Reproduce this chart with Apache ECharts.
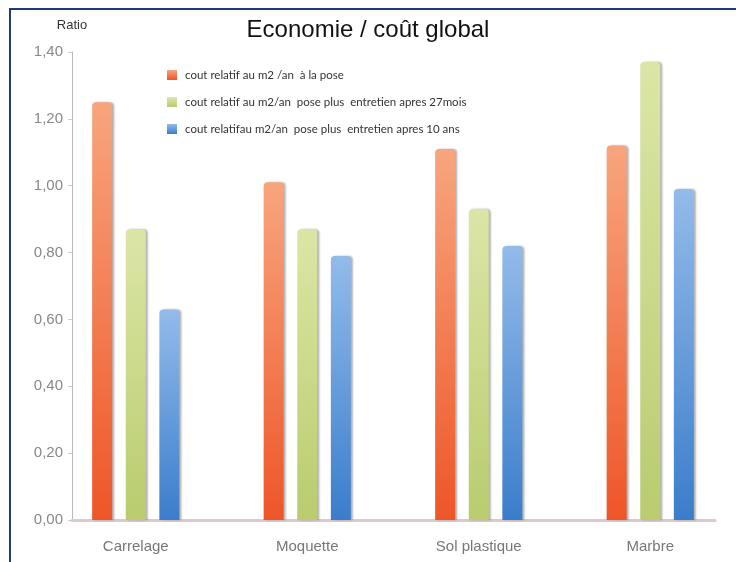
<!DOCTYPE html>
<html>
<head>
<meta charset="utf-8">
<title>Economie / coût global</title>
<script src="https://cdn.jsdelivr.net/npm/echarts@6/dist/echarts.min.js"></script>
<style>
  html, body { margin: 0; padding: 0; background: #fff; }
  #chart { position: absolute; left: 0; top: 0; width: 736px; height: 562px; }
  #frame {
    position: absolute; left: 9px; top: 8px; right: 0; bottom: 0;
    border-left: 2px solid #1f3b7c; border-top: 2px solid #1f3b7c;
    pointer-events: none;
  }
</style>
</head>
<body>
<div id="chart"></div>
<div id="frame"></div>
<script>
const categories = ['Carrelage', 'Moquette', 'Sol plastique', 'Marbre'];
const seriesNames = [
  'cout relatif au m2 /an  à la pose',
  'cout relatif au m2/an  pose plus  entretien apres 27mois',
  'cout relatifau m2/an  pose plus  entretien apres 10 ans'
];
const poseValues = [1.25, 1.01, 1.11, 1.12];
const entretien27Values = [0.87, 0.87, 0.93, 1.37];
const entretien10Values = [0.63, 0.79, 0.82, 0.99];
const yTicks = [0, 0.2, 0.4, 0.6, 0.8, 1.0, 1.2, 1.4];

// top / bottom colours of each cylinder
const barColors = [
  ['#f8a57e', '#ee5628'],
  ['#dbe6a6', '#b9cc6e'],
  ['#93bbea', '#3b7dcb']
];

function barStyle(c) {
  return {
    color: new echarts.graphic.LinearGradient(0, 0, 0, 1, [
      { offset: 0, color: c[0] },
      { offset: 1, color: c[1] }
    ]),
    borderRadius: [4, 4, 0, 0],
    shadowColor: 'rgba(60,60,60,0.4)',
    shadowOffsetX: 2,
    shadowBlur: 2
  };
}

const fmt = v => v.toFixed(2).replace('.', ',');
const data = [poseValues, entretien27Values, entretien10Values];

const chart = echarts.init(document.getElementById('chart'));
chart.setOption({
  backgroundColor: 'transparent',
  animation: false,
  title: {
    text: 'Economie / coût global',
    left: 'center',
    top: 13,
    textStyle: { fontFamily: 'Liberation Sans', fontSize: 24, fontWeight: 'normal', color: '#111' }
  },
  legend: {
    orient: 'vertical',
    left: 167,
    top: 69,
    padding: 0,
    itemWidth: 10,
    itemHeight: 10,
    itemGap: 15,
    icon: 'rect',
    data: seriesNames,
    textStyle: { fontFamily: 'Lato', fontSize: 11.5, color: '#333', padding: [0, 0, 0, 3] }
  },
  grid: [
    { left: 50, width: 686, top: 52, bottom: 42 },
    { left: 72, right: 21, top: 52, bottom: 42 }
  ],
  xAxis: [
    {
      type: 'category',
      gridIndex: 0,
      data: categories,
      axisLine: { show: false },
      axisTick: { show: false },
      axisLabel: { fontFamily: 'Liberation Sans', fontSize: 15, color: '#777', margin: 19 }
    },
    {
      type: 'category',
      gridIndex: 1,
      data: categories,
      axisLine: { lineStyle: { color: '#dccaca', width: 3 } },
      axisTick: { show: false },
      axisLabel: { show: false }
    }
  ],
  yAxis: [
    {
      type: 'value',
      gridIndex: 0,
      min: yTicks[0],
      max: yTicks[yTicks.length - 1],
      interval: 0.2,
      offset: -22,
      name: 'Ratio',
      nameLocation: 'end',
      nameGap: 20,
      nameTextStyle: { fontFamily: 'Liberation Sans', fontSize: 13, color: '#333', align: 'center' },
      axisLine: { show: true, lineStyle: { color: '#bbb' } },
      axisTick: { show: true, length: 4, lineStyle: { color: '#ccc' } },
      axisLabel: { fontFamily: 'Liberation Sans', fontSize: 15, color: '#888', margin: 9, formatter: fmt },
      splitLine: { show: false }
    },
    {
      type: 'value',
      gridIndex: 1,
      min: 0,
      max: 1.4,
      show: false
    }
  ],
  series: seriesNames.map((name, i) => ({
    name: name,
    type: 'bar',
    xAxisIndex: 0,
    yAxisIndex: 0,
    data: data[i],
    barWidth: 20,
    barGap: '68%',
    itemStyle: barStyle(barColors[i])
  }))
});
</script>
</body>
</html>
